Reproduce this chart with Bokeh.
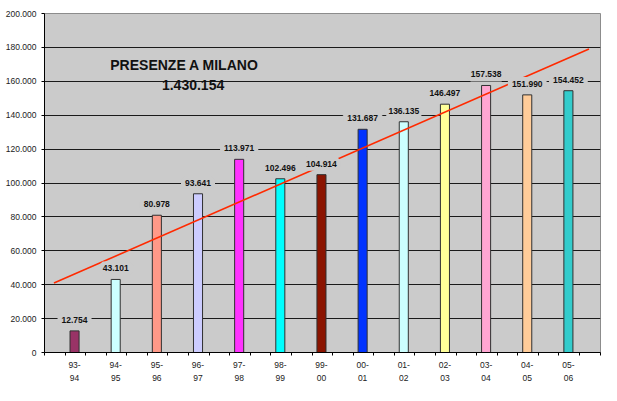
import numpy as np
from bokeh.plotting import figure
from bokeh.models import (ColumnDataSource, LabelSet, Label, Range1d, FixedTicker)
from bokeh.core.properties import value
from bokeh.embed import file_html
from bokeh.resources import INLINE

seasons = ["93-\n94", "94-\n95", "95-\n96", "96-\n97", "97-\n98", "98-\n99", "99-\n00",
           "00-\n01", "01-\n02", "02-\n03", "03-\n04", "04-\n05", "05-\n06"]
presenze = [12754, 43101, 80978, 93641, 113971, 102496, 104914,
            131687, 136135, 146497, 157538, 151990, 154452]
colors = ["#993366", "#CCFFFF", "#FF9988", "#CCCCFF", "#FF33FF", "#00FFFF", "#8B1400",
          "#0033FF", "#CCFFFF", "#FFFF99", "#FFA6D2", "#FFCC99", "#33CCCC"]
y_ticks = [0, 20000, 40000, 60000, 80000, 100000, 120000, 140000, 160000, 180000, 200000]
title_text = "PRESENZE  A MILANO"

def fmt(v):
    return f"{v:,}".replace(",", ".")

idx = list(range(len(presenze)))
src = ColumnDataSource(dict(x=idx, y=presenze, c=colors, lab=[fmt(v) for v in presenze]))

BG = "#CBCBCB"
FONT = "Liberation Sans"

p = figure(width=601, height=385, output_backend="svg", toolbar_location=None,
           x_range=Range1d(-0.73, 12.78), y_range=Range1d(0, 200000),
           min_border_left=44, min_border_right=1, min_border_top=13, min_border_bottom=30)
p.background_fill_color = BG
p.border_fill_color = "white"
p.outline_line_color = "#8C8C8C"
p.outline_line_width = 1

p.vbar(x="x", top="y", width=0.22, fill_color="c", line_color="#303030", line_width=1, source=src)

# linear trend over the categories
coef = np.polyfit(np.array(idx, dtype=float), np.array(presenze, dtype=float), 1)
tx = np.array([-0.5, len(presenze) - 0.5])
p.line(tx, np.polyval(coef, tx), line_color="#FF2A00", line_width=1.6)

labels = LabelSet(x="x", y="y", text="lab", source=src, text_align="center", text_baseline="middle",
                  y_offset=11, text_font=value(FONT), text_font_size=value("8.5px"),
                  text_font_style=value("bold"), text_color=value("#111111"),
                  background_fill_color=BG, background_fill_alpha=1.0,
                  border_line_color=BG, border_line_width=8, level="overlay")
p.add_layout(labels)

p.add_layout(Label(x=2.72, y=169700, text=title_text, text_align="center", text_baseline="middle",
                   text_font=FONT, text_font_size="14px", text_font_style="bold", text_color="#111111"))
p.add_layout(Label(x=2.88, y=158000, text=fmt(sum(presenze)), text_align="center", text_baseline="middle",
                   text_font=FONT, text_font_size="14px", text_font_style="bold", text_color="#111111"))

# grid
p.xgrid.grid_line_color = None
p.ygrid.ticker = FixedTicker(ticks=y_ticks)
p.ygrid.grid_line_color = "#1A1A1A"
p.ygrid.grid_line_width = 1

# y axis
p.yaxis.ticker = FixedTicker(ticks=y_ticks)
p.yaxis.major_label_overrides = {t: fmt(t) for t in y_ticks}
p.yaxis.major_label_text_font = FONT
p.yaxis.major_label_text_font_size = "8.5px"
p.yaxis.major_label_text_color = "#222222"
p.yaxis.axis_line_color = "black"
p.yaxis.major_tick_line_color = "black"
p.yaxis.major_tick_out = 3
p.yaxis.major_tick_in = 0
p.yaxis.minor_tick_line_color = None
p.yaxis.major_label_standoff = 5

# x axis
minor = [-0.73 + 0.5 * k for k in range(28)]
p.xaxis.ticker = FixedTicker(ticks=idx, minor_ticks=minor)
p.xaxis.major_label_overrides = {i: s for i, s in zip(idx, seasons)}
p.xaxis.major_label_text_font = FONT
p.xaxis.major_label_text_font_size = "8.5px"
p.xaxis.major_label_text_color = "#222222"
p.xaxis.major_label_text_line_height = 1.3
p.xaxis.axis_line_color = "black"
p.xaxis.major_tick_line_color = None
p.xaxis.major_tick_out = 4
p.xaxis.major_tick_in = 0
p.xaxis.minor_tick_line_color = "black"
p.xaxis.minor_tick_out = 3
p.xaxis.minor_tick_in = 0
p.xaxis.major_label_standoff = 3

open("out.html", "w").write(file_html(p, INLINE))
